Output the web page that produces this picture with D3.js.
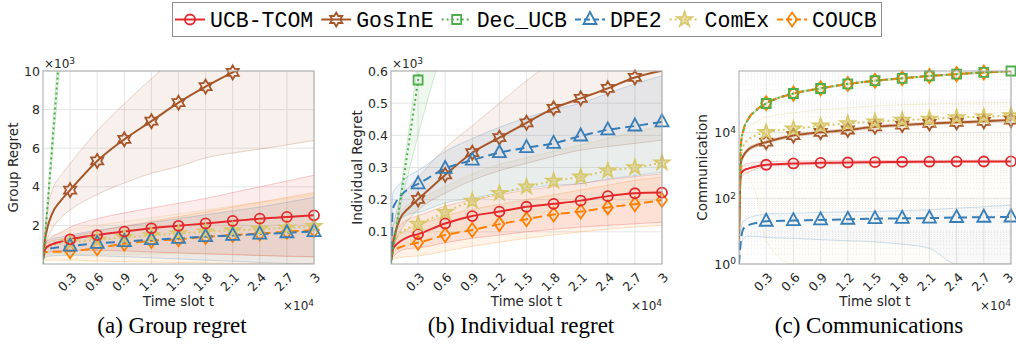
<!DOCTYPE html>
<html><head><meta charset="utf-8">
<script src="https://cdn.jsdelivr.net/npm/d3@7"></script>
<style>body{margin:0;background:#fff} svg{display:block}</style>
</head><body><svg id="c" width="1016" height="348"></svg>
<script>
// ---------- shared ----------
const seriesNames  = ["UCB-TCOM","GosInE","Dec_UCB","DPE2","ComEx","COUCB"];
const seriesColors = ["#e4292d","#a65628","#4daf4a","#377eb8","#d8c86a","#ff7f00"];
const seriesMarkers = ["circle","hexagram","square","triangle","pentagram","diamond"];
const seriesDash   = ["none","none","2,3","9,5","2,3","9,5"];
const T = [0,0.02,0.05,0.1,0.2,0.3,0.6,0.9,1.2,1.5,1.8,2.1,2.4,2.7,3.0];   // x 10^4
const xTicks = [0.3,0.6,0.9,1.2,1.5,1.8,2.1,2.4,2.7,3];
const xTickLabels = ["0.3","0.6","0.9","1.2","1.5","1.8","2.1","2.4","2.7","3"];
const captions = ["(a) Group regret","(b) Individual regret","(c) Communications"];
const yLabels = ["Group Regret","Individual Regret","Communication"];

// ---------- (a) group regret, x 10^3 ----------
const aTicks = [2,4,6,8,10];
const aTickLabels = ["2","4","6","8","10"];
const aUcbMean = [0.3,0.75,0.9,1.02,1.16,1.28,1.5,1.68,1.85,1.98,2.1,2.23,2.35,2.44,2.52];
const aUcbHi   = [0.4,1.0,1.2,1.4,1.65,1.9,2.35,2.65,2.9,3.15,3.4,3.7,4.0,4.3,4.6];
const aUcbLo   = [0.2,0.5,0.6,0.65,0.7,0.72,0.7,0.68,0.62,0.58,0.52,0.48,0.44,0.4,0.38];
const aGosMean = [0.3,1.2,1.9,2.6,3.3,3.83,5.34,6.46,7.4,8.36,9.19,9.93,10.6,11.25,11.85];
const aGosHi   = [0.35,1.8,2.9,3.8,4.6,5.2,6.9,8.3,9.6,10.8,11.9,13,14,15,16];
const aGosLo   = [0.25,0.8,1.3,1.8,2.4,2.8,3.6,4.2,4.7,5.05,5.5,5.75,5.95,6.17,6.4];
const aDecMean = [0,1.2,3.0,6.0,12.0];
const aDecHi   = [0,1.35,3.3,6.6,13.0];
const aDecLo   = [0,1.05,2.7,5.4,11.0];
const aDpeMean = [0.3,0.72,0.78,0.82,0.88,0.93,1.07,1.16,1.26,1.33,1.42,1.48,1.55,1.62,1.68];
const aDpeHi   = [0.5,1.1,1.2,1.3,1.4,1.5,1.75,1.95,2.15,2.35,2.55,2.75,2.95,3.2,3.45];
const aDpeLo   = [0.1,0.35,0.4,0.42,0.44,0.45,0.42,0.38,0.32,0.26,0.2,0.14,0.08,0.03,0];
const aComMean = [0.3,0.8,0.9,0.98,1.06,1.12,1.25,1.38,1.48,1.58,1.67,1.74,1.81,1.88,1.95];
const aComHi   = [0.5,1.15,1.3,1.45,1.6,1.75,2.0,2.2,2.4,2.6,2.8,3.0,3.2,3.4,3.6];
const aComLo   = [0.1,0.45,0.5,0.52,0.52,0.5,0.5,0.5,0.52,0.55,0.55,0.5,0.45,0.4,0.35];
const aCouMean = [0.3,0.6,0.62,0.63,0.64,0.66,0.82,1.05,1.2,1.28,1.4,1.5,1.58,1.67,1.75];
const aCouHi   = [0.5,1.0,1.1,1.2,1.3,1.4,1.7,1.95,2.2,2.45,2.7,2.95,3.2,3.45,3.7];
const aCouLo   = [0.1,0.2,0.2,0.2,0.2,0.2,0.15,0.12,0.1,0.08,0.05,0.03,0.01,0,0];

// ---------- (b) individual regret, x 10^3 ----------
const bTicks = [0.1,0.2,0.3,0.4,0.5,0.6];
const bTickLabels = ["0.1","0.2","0.3","0.4","0.5","0.6"];
const bUcbMean = [0.01,0.045,0.058,0.07,0.085,0.093,0.126,0.149,0.163,0.178,0.187,0.197,0.211,0.22,0.222];
const bUcbHi   = [0.015,0.08,0.1,0.12,0.14,0.15,0.18,0.2,0.215,0.23,0.24,0.25,0.262,0.272,0.28];
const bUcbLo   = [0.005,0.02,0.03,0.04,0.048,0.05,0.066,0.08,0.09,0.1,0.108,0.115,0.12,0.125,0.13];
const bGosMean = [0.01,0.06,0.1,0.14,0.175,0.201,0.277,0.346,0.393,0.439,0.484,0.515,0.546,0.58,0.601];
const bGosHi   = [0.015,0.1,0.15,0.2,0.24,0.27,0.36,0.43,0.5,0.57,0.63,0.69,0.75,0.8,0.85];
const bGosLo   = [0.005,0.04,0.07,0.1,0.14,0.168,0.22,0.26,0.29,0.313,0.335,0.354,0.365,0.375,0.385];
const bDecMean = [0,0.038,0.095,0.19,0.38,0.572,1.14];
const bDecHi   = [0,0.042,0.105,0.21,0.42,0.63,1.26];
const bDecLo   = [0,0.034,0.085,0.17,0.29,0.4,0.7];
const bDpeMean = [0,0.17,0.19,0.21,0.235,0.249,0.297,0.323,0.346,0.362,0.375,0.398,0.417,0.429,0.442];
const bDpeHi   = [0,0.22,0.235,0.25,0.275,0.29,0.35,0.39,0.425,0.455,0.48,0.5,0.53,0.56,0.585];
const bDpeLo   = [0,0.12,0.13,0.14,0.155,0.16,0.19,0.205,0.22,0.235,0.245,0.25,0.265,0.275,0.285];
const bComMean = [0.01,0.06,0.08,0.095,0.113,0.124,0.161,0.196,0.22,0.24,0.258,0.271,0.29,0.3,0.315];
const bComHi   = [0.015,0.1,0.13,0.16,0.185,0.2,0.24,0.28,0.31,0.33,0.35,0.37,0.39,0.41,0.43];
const bComLo   = [0.005,0.03,0.04,0.05,0.062,0.07,0.09,0.11,0.13,0.15,0.165,0.175,0.185,0.193,0.2];
const bCouMean = [0.01,0.035,0.045,0.052,0.06,0.066,0.09,0.106,0.124,0.139,0.154,0.163,0.176,0.186,0.199];
const bCouHi   = [0.015,0.06,0.075,0.09,0.11,0.12,0.15,0.17,0.185,0.2,0.215,0.23,0.245,0.26,0.27];
const bCouLo   = [0.005,0.015,0.018,0.02,0.023,0.025,0.04,0.055,0.068,0.08,0.09,0.1,0.108,0.115,0.12];

// ---------- (c) communications (log) ----------
const cTicks = [1,100,10000];
const cTickExp = ["0","2","4"];
const cUcbMean = [8,550,700,800,950,1050,1150,1200,1230,1260,1280,1300,1310,1320,1330];
const cUcbHi   = [10,800,1000,1150,1250,1300,1350,1380,1400,1410,1420,1430,1440,1445,1450];
const cUcbLo   = [6,400,520,620,800,950,1030,1080,1110,1140,1170,1190,1210,1230,1250];
const cGosMean = [5,1200,2000,3000,4200,5100,8100,10200,12000,15000,17000,19000,20500,22000,24000];
const cGosHi   = [6,1400,2300,3400,4700,5700,9000,11300,13300,16500,18700,20800,22500,24200,26300];
const cGosLo   = [4,1050,1750,2650,3750,4600,7300,9200,10800,13500,15300,17100,18500,19800,21600];
const cDecMean = [10,4000,12000,25000,50000,77000,155000,220000,305000,380000,450000,530000,600000,680000,750000];
const cDecHi   = [11,4300,12700,26500,53000,81000,163000,231000,320000,399000,472000,556000,630000,714000,788000];
const cDecLo   = [9,3700,11300,23500,47000,73000,147000,209000,290000,361000,428000,504000,570000,646000,712000];
const cDpeMean = [1,5,12,15,18,20,21,22,23,24,24.5,25,26,26.5,27];
const cDpeHi   = [1.5,12,20,25,30,34,35,37,38.5,40,42,45,50,55,62];
const cDpeLo   = [0.5,3,6,7,6.8,6.5,6,5.5,5.1,4.7,4,3,0.5,0.1,0.1];
const cComMean = [5,2000,4000,6000,8500,10200,13000,16000,19000,21500,24000,26000,29000,30500,33000];
const cComHi   = [8,8000,12000,15000,22000,30000,40000,50000,56000,65000,70000,75000,78000,81000,83000];
const cComLo   = [3,800,1000,500,100,5,0.1,0.1,0.1,0.1,0.1,0.1,0.1,0.1,0.1];
const cCouMean = [10,4200,12500,25500,51000,78000,154000,222000,300000,378000,452000,528000,602000,678000,752000];
const cCouHi   = [11,4500,13200,27000,54000,82000,162000,233000,315000,397000,475000,554000,632000,712000,790000];
const cCouLo   = [9,3900,11800,24000,48000,74000,146000,211000,285000,359000,429000,502000,572000,644000,714000];

// ---------- assemble ----------
const mk = (m,h,l)=>({mean:m,hi:h,lo:l});
const panels = [
  {x0:43,x1:314,log:false,domain:[0,10],ticks:aTicks,tickLabels:aTickLabels,exp:"3",bandAlpha:0.09,
   series:[mk(aUcbMean,aUcbHi,aUcbLo),mk(aGosMean,aGosHi,aGosLo),mk(aDecMean,aDecHi,aDecLo),
           mk(aDpeMean,aDpeHi,aDpeLo),mk(aComMean,aComHi,aComLo),mk(aCouMean,aCouHi,aCouLo)],
   ylabX:18, order:[5,4,3,0,1,2]},
  {x0:391,x1:662,log:false,domain:[0,0.6],ticks:bTicks,tickLabels:bTickLabels,exp:"3",bandAlpha:0.09,
   series:[mk(bUcbMean,bUcbHi,bUcbLo),mk(bGosMean,bGosHi,bGosLo),mk(bDecMean,bDecHi,bDecLo),
           mk(bDpeMean,bDpeHi,bDpeLo),mk(bComMean,bComHi,bComLo),mk(bCouMean,bCouHi,bCouLo)],
   ylabX:362, order:[5,0,4,1,3,2]},
  {x0:739,x1:1011,log:true,domain:[1,7.5e5],ticks:cTicks,tickLabels:null,exp:null,bandAlpha:0.035,
   series:[mk(cUcbMean,cUcbHi,cUcbLo),mk(cGosMean,cGosHi,cGosLo),mk(cDecMean,cDecHi,cDecLo),
           mk(cDpeMean,cDpeHi,cDpeLo),mk(cComMean,cComHi,cComLo),mk(cCouMean,cCouHi,cCouLo)],
   ylabX:707, order:[3,0,1,4,5,2]}
];
const yTop = 71, yBot = 264;
const txtCol = "#262626";

const svg = d3.select("#c");
const defs = svg.append("defs");

function markerPath(kind){
  const p = d3.path();
  if(kind==="circle"){ p.arc(0,0,5,0,2*Math.PI); }
  else if(kind==="square"){ p.rect(-4.5,-4.5,9,9); }
  else if(kind==="triangle"){ p.moveTo(0,-7.5); p.lineTo(6.5,4.5); p.lineTo(-6.5,4.5); p.closePath(); }
  else if(kind==="diamond"){ p.moveTo(0,-7); p.lineTo(5,0); p.lineTo(0,7); p.lineTo(-5,0); p.closePath(); }
  else if(kind==="hexagram"||kind==="pentagram"){
    const n = kind==="hexagram"?6:5, R = kind==="hexagram"?7:8, r = kind==="hexagram"?R/Math.sqrt(3):R*0.382;
    for(let i=0;i<2*n;i++){
      const a = -Math.PI/2 + i*Math.PI/n, rr = i%2?r:R;
      const x = rr*Math.cos(a), y = rr*Math.sin(a);
      if(i===0) p.moveTo(x,y); else p.lineTo(x,y);
    }
    p.closePath();
  }
  return p.toString();
}
function drawMarker(g,kind,color,x,y){
  g.append("path").attr("d",markerPath(kind)).attr("transform",`translate(${x},${y})`)
   .attr("fill", kind==="pentagram"? color : "none").attr("fill-opacity",kind==="pentagram"?0.55:0)
   .attr("stroke",color).attr("stroke-width",kind==="pentagram"?1.6:1.8).attr("stroke-linejoin","miter");
}

panels.forEach((P,pi)=>{
  const x = d3.scaleLinear().domain([0,3]).range([P.x0,P.x1]);
  const y = (P.log? d3.scaleLog():d3.scaleLinear()).domain(P.domain).range([yBot,yTop]).clamp(P.log);
  const g = svg.append("g");
  const clipId = "clip"+pi;
  defs.append("clipPath").attr("id",clipId).append("rect")
    .attr("x",P.x0).attr("y",yTop).attr("width",P.x1-P.x0).attr("height",yBot-yTop);
  // grid
  const grid = g.append("g");
  if(P.log){
    const minor=[];
    for(let d=0; d<6; d++) for(let k=1;k<10;k++){ const v=k*Math.pow(10,d); if(v>P.domain[0] && v<P.domain[1] && !P.ticks.includes(v)) minor.push(v); }
    grid.selectAll("line.mn").data(minor).join("line").attr("x1",P.x0).attr("x2",P.x1)
      .attr("y1",d=>y(d)).attr("y2",d=>y(d)).attr("stroke","#e3e3e3").attr("stroke-width",0.8).attr("stroke-dasharray","1,2");
  }
  grid.selectAll("line.h").data(P.ticks).join("line").attr("x1",P.x0).attr("x2",P.x1)
    .attr("y1",d=>y(d)).attr("y2",d=>y(d)).attr("stroke","#e6e6e6").attr("stroke-width",1);
  grid.selectAll("line.v").data(xTicks).join("line").attr("y1",yTop).attr("y2",yBot)
    .attr("x1",d=>x(d)).attr("x2",d=>x(d)).attr("stroke","#e6e6e6").attr("stroke-width",1);

  const plot = g.append("g").attr("clip-path",`url(#${clipId})`);
  const yv = v=>y(P.log? Math.max(v,1e-3):v);
  // bands
  P.order.forEach(si=>{
    const s=P.series[si], col=seriesColors[si];
    const pts = s.mean.map((m,i)=>({t:T[i],hi:s.hi[i],lo:s.lo[i]}));
    const area = d3.area().x(d=>x(d.t)).y0(d=>yv(d.lo)).y1(d=>yv(d.hi)).curve(d3.curveMonotoneX);
    plot.append("path").attr("d",area(pts)).attr("fill",col).attr("fill-opacity",P.bandAlpha).attr("stroke","none");
    ["hi","lo"].forEach(k=>{
      const ln = d3.line().x(d=>x(d.t)).y(d=>yv(d[k])).curve(d3.curveMonotoneX);
      plot.append("path").attr("d",ln(pts)).attr("fill","none").attr("stroke",col).attr("stroke-opacity",0.3).attr("stroke-width",0.8);
    });
  });
  // lines
  P.order.forEach(si=>{
    const s=P.series[si], col=seriesColors[si];
    const pts = s.mean.map((m,i)=>({t:T[i],v:m}));
    const ln = d3.line().x(d=>x(d.t)).y(d=>yv(d.v)).curve(d3.curveMonotoneX);
    plot.append("path").attr("d",ln(pts)).attr("fill","none").attr("stroke",col).attr("stroke-width",2)
      .attr("stroke-dasharray",seriesDash[si]);
  });
  // markers (drawn when the data point lies inside the axes)
  const mg = g.append("g");
  P.order.forEach(si=>{
    const s=P.series[si], col=seriesColors[si];
    s.mean.forEach((m,i)=>{
      if(T[i]<0.29) return;
      if(m>P.domain[1]*1.0001 || m<P.domain[0]) return;
      drawMarker(mg,seriesMarkers[si],col,x(T[i]),y(m));
    });
  });
  // box
  g.append("rect").attr("x",P.x0).attr("y",yTop).attr("width",P.x1-P.x0).attr("height",yBot-yTop)
    .attr("fill","none").attr("stroke","#a8a8a8").attr("stroke-width",1);
  // y tick labels
  const yt = g.append("g").attr("font-family","DejaVu Sans").attr("font-size",12.5).attr("fill",txtCol);
  P.ticks.forEach((v,i)=>{
    const t = yt.append("text").attr("x",P.x0-3).attr("y",y(v)).attr("dy","0.36em").attr("text-anchor","end");
    if(P.log){ t.append("tspan").text("10"); t.append("tspan").attr("dy","-0.45em").attr("font-size",9).text(cTickExp[i]); }
    else t.text(P.tickLabels[i]);
  });
  // x tick labels
  xTicks.forEach((v,i)=>{
    const off = (P.log && i===xTicks.length-1) ? 0 : 4;
    g.append("text").attr("transform",`translate(${x(v)+off},${yBot+11}) rotate(-45)`)
      .attr("text-anchor","end").attr("dy","0.36em").attr("font-family","DejaVu Sans").attr("font-size",12.5)
      .attr("fill",txtCol).text(xTickLabels[i]);
  });
  // axis labels
  g.append("text").attr("x",(P.x0+P.x1)/2).attr("y",306).attr("text-anchor","middle")
    .attr("font-family","DejaVu Sans").attr("font-size",13.5).attr("fill",txtCol).text("Time slot t");
  g.append("text").attr("transform",`translate(${P.ylabX},${(yTop+yBot)/2}) rotate(-90)`).attr("text-anchor","middle")
    .attr("font-family","DejaVu Sans").attr("font-size",13.5).attr("fill",txtCol).text(yLabels[pi]);
  // exponent labels
  const e4 = g.append("text").attr("x",P.x1).attr("y",310).attr("text-anchor","end")
    .attr("font-family","DejaVu Sans").attr("font-size",12).attr("fill",txtCol);
  e4.append("tspan").text("×10"); e4.append("tspan").attr("dy","-0.45em").attr("font-size",9).text("4");
  if(P.exp){
    const e3 = g.append("text").attr("x",P.x0+1).attr("y",68).attr("font-family","DejaVu Sans").attr("font-size",12).attr("fill",txtCol);
    e3.append("tspan").text("×10"); e3.append("tspan").attr("dy","-0.45em").attr("font-size",9).text(P.exp);
  }
  // caption
  svg.append("text").attr("x",[172,521,869][pi]).attr("y",333).attr("text-anchor","middle")
    .attr("font-family","Liberation Serif").attr("font-size",23).attr("fill","#000").text(captions[pi]);
});

// ---------- legend ----------
const lg = svg.append("g");
lg.append("rect").attr("x",172.5).attr("y",2.5).attr("width",709).attr("height",34).attr("fill","#fff").attr("stroke","#8c8c8c").attr("stroke-width",1);
let lx = 175;
seriesNames.forEach((nm,i)=>{
  lg.append("line").attr("x1",lx).attr("x2",lx+30).attr("y1",19.5).attr("y2",19.5).attr("stroke",seriesColors[i])
    .attr("stroke-width",2).attr("stroke-dasharray",seriesDash[i]==="none"?null:(seriesDash[i]==="9,5"?"6,3":"2,3"));
  drawMarker(lg,seriesMarkers[i],seriesColors[i],lx+15,19.5);
  const t = lg.append("text").attr("x",lx+35).attr("y",27).attr("font-family","Liberation Mono").attr("font-size",21.5)
    .attr("fill","#000").text(nm);
  lx += 35 + t.node().getComputedTextLength() + 8;
});
</script></body></html>
